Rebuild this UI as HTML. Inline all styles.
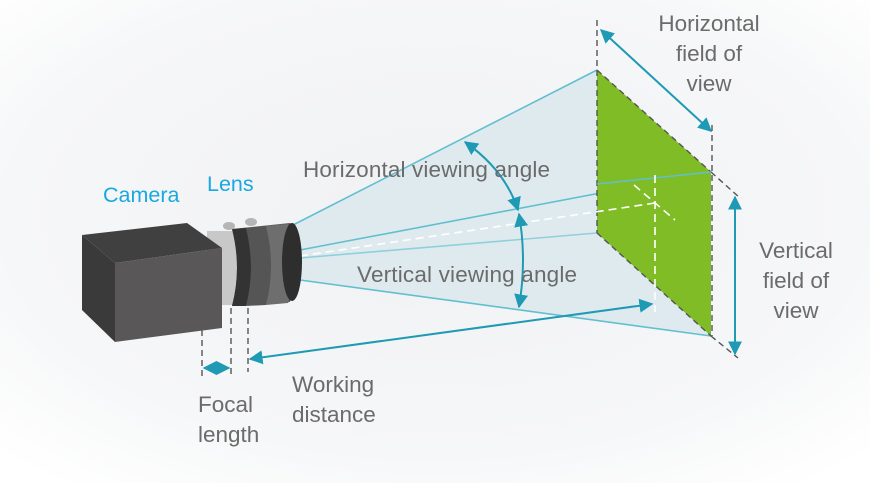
<!DOCTYPE html>
<html><head><style>
body{margin:0;background:#fff}
svg{display:block}
text{font-family:"Liberation Sans",sans-serif}
</style></head><body>
<svg width="870" height="483" viewBox="0 0 870 483" xmlns="http://www.w3.org/2000/svg">
<defs>
<radialGradient id="bg" cx="0.5" cy="0.45" r="0.7">
<stop offset="0" stop-color="#f0f1f3"/><stop offset="0.7" stop-color="#f6f7f8"/><stop offset="1" stop-color="#ffffff"/>
</radialGradient>
<marker id="ah" viewBox="0 0 10 10" refX="9" refY="5" markerWidth="7" markerHeight="7" orient="auto-start-reverse">
<path d="M0,0 L10,5 L0,10 z" fill="#1e9ab5"/></marker>
</defs>
<rect width="870" height="483" fill="url(#bg)"/>
<polygon points="293,225 597,70 711,172 711,336 300,280" fill="#dde9ee" opacity="0.9"/>
<g stroke="#62bfcf" stroke-width="1.6" fill="none">
<line x1="293" y1="225" x2="597" y2="70"/>
<line x1="300" y1="280" x2="711" y2="336"/>
<line x1="300" y1="250" x2="711" y2="172"/>
<line x1="300" y1="258" x2="597" y2="233" stroke="#8fd0dc"/>
</g>
<polygon points="597,70 711,172 711,336 597,233" fill="#80bc25"/>
<g stroke="#555" stroke-width="1.4" stroke-dasharray="6,4" fill="none">
<line x1="597" y1="70" x2="711" y2="172"/>
<line x1="597" y1="233" x2="711" y2="336"/>
<line x1="597" y1="20" x2="597" y2="233"/>
<line x1="712" y1="125" x2="712" y2="336"/>
<line x1="711" y1="172" x2="740" y2="198"/>
<line x1="711" y1="336" x2="738" y2="358"/>
</g>
<line x1="597" y1="184" x2="711" y2="172" stroke="#62bfcf" stroke-width="1.6"/>
<g stroke="#fff" stroke-width="1.6" stroke-dasharray="8,5" fill="none">
<line x1="300" y1="256" x2="655" y2="203"/>
<line x1="655" y1="175" x2="655" y2="312"/>
<line x1="634" y1="185" x2="675" y2="220"/>
</g>
<g stroke="#1e9ab5" stroke-width="2" fill="none">
<line x1="601" y1="30" x2="711" y2="131" marker-start="url(#ah)" marker-end="url(#ah)"/>
<line x1="735" y1="197" x2="735" y2="354" marker-start="url(#ah)" marker-end="url(#ah)"/>
<line x1="250" y1="359" x2="652" y2="304" marker-start="url(#ah)" marker-end="url(#ah)"/>
<line x1="204" y1="368" x2="229" y2="368" marker-start="url(#ah)" marker-end="url(#ah)"/>
<path d="M465,142 Q505,170 518,210" marker-start="url(#ah)" marker-end="url(#ah)"/>
<path d="M519,214 Q527,260 519,307" marker-start="url(#ah)" marker-end="url(#ah)"/>
</g>
<g stroke="#555" stroke-width="1.4" stroke-dasharray="6,4">
<line x1="202" y1="330" x2="202" y2="380"/>
<line x1="231" y1="308" x2="231" y2="378"/>
<line x1="248" y1="308" x2="248" y2="372"/>
</g>
<!-- lens -->
<path d="M207,231 L236,231 Q246,268 236,305 L207,305 Z" fill="#c8c8c8"/>
<path d="M232,229 L290,223 Q300,262 290,302 L232,306 Q242,268 232,229 Z" fill="#5a5a5a"/>
<path d="M232,229 L246,228 Q256,268 246,306 L232,306 Q242,268 232,229 Z" fill="#333"/>
<path d="M246,228 L266,226 Q276,266 266,305 L246,306 Q256,268 246,228 Z" fill="#555"/>
<path d="M266,226 L288,224 Q298,262 288,303 L266,305 Q276,266 266,226 Z" fill="#6e6e6e"/>
<ellipse cx="292" cy="262" rx="10" ry="39" fill="#2e2e2e"/>
<ellipse cx="229" cy="226" rx="6" ry="4" fill="#b5b5b5"/>
<ellipse cx="251" cy="222" rx="6" ry="4" fill="#b5b5b5"/>
<polygon points="82,235 187,223 222,248 115,263" fill="#404040"/>
<polygon points="82,235 115,263 115,342 82,310" fill="#3a3a3a"/>
<polygon points="115,263 222,248 222,328 115,342" fill="#595757"/>
<g font-size="22.5" fill="#6b6b6b">
<text x="303" y="177" textLength="247">Horizontal viewing angle</text>
<text x="357" y="282" textLength="220">Vertical viewing angle</text>
<text x="709" y="31" text-anchor="middle">Horizontal</text>
<text x="709" y="61" text-anchor="middle">field of</text>
<text x="709" y="91" text-anchor="middle">view</text>
<text x="796" y="258" text-anchor="middle">Vertical</text>
<text x="796" y="288" text-anchor="middle">field of</text>
<text x="796" y="318" text-anchor="middle">view</text>
<text x="292" y="392">Working</text>
<text x="292" y="422">distance</text>
<text x="198" y="412">Focal</text>
<text x="198" y="442">length</text>
</g>
<g font-size="21.5" fill="#1aa8e0">
<text x="103" y="202">Camera</text>
<text x="207" y="191">Lens</text>
</g>
</svg>
</body></html>
